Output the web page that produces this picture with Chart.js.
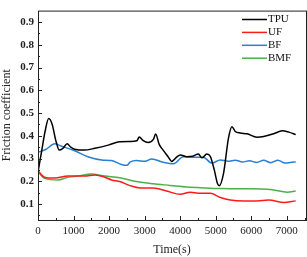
<!DOCTYPE html>
<html>
<head>
<meta charset="utf-8">
<script src="https://cdn.jsdelivr.net/npm/chart.js@4/dist/chart.umd.min.js"></script>
<style>
    html, body { margin: 0; padding: 0; background: #fff; }
    #wrap { width: 307px; height: 257px; }
</style>
</head>
<body>
<div id="wrap"><canvas id="myChart"></canvas></div>
<script>
// values
const seriesNames = ['TPU', 'UF', 'BF', 'BMF'];

const tpuTime = [0, 100, 200, 300, 400, 500, 600, 700, 820, 920, 1030, 1300, 1600, 2000, 2300, 2600, 2780, 2850, 2950, 3100, 3250, 3310, 3410, 3520, 3670, 3760, 3900, 4000, 4190, 4350, 4510, 4610, 4750, 4845, 4960, 5050, 5100, 5220, 5360, 5456, 5550, 5690, 5880, 6160, 6350, 6630, 6870, 7060, 7250];
const tpuValues = [0.24, 0.33, 0.42, 0.476, 0.45, 0.38, 0.337, 0.345, 0.365, 0.35, 0.341, 0.337, 0.345, 0.36, 0.374, 0.375, 0.378, 0.395, 0.38, 0.37, 0.385, 0.408, 0.362, 0.337, 0.306, 0.287, 0.306, 0.316, 0.308, 0.31, 0.32, 0.303, 0.32, 0.31, 0.25, 0.19, 0.181, 0.235, 0.391, 0.44, 0.419, 0.412, 0.409, 0.394, 0.397, 0.409, 0.422, 0.416, 0.405];

const ufTime = [0, 185, 470, 840, 1310, 1600, 1880, 2070, 2300, 2590, 2870, 3240, 3620, 4000, 4280, 4560, 4850, 5130, 5410, 5790, 6160, 6490, 6920, 7250];
const ufValues = [0.246, 0.218, 0.214, 0.223, 0.223, 0.228, 0.218, 0.206, 0.199, 0.181, 0.171, 0.171, 0.157, 0.143, 0.152, 0.147, 0.147, 0.129, 0.118, 0.114, 0.114, 0.118, 0.107, 0.114];

const bfTime = [0, 230, 470, 650, 1030, 1400, 1790, 2070, 2350, 2500, 2590, 2770, 3010, 3200, 3520, 3810, 4090, 4370, 4650, 4890, 5130, 5350, 5550, 5750, 5950, 6150, 6350, 6550, 6750, 6950, 7100, 7250];
const bfValues = [0.327, 0.341, 0.365, 0.355, 0.334, 0.308, 0.294, 0.291, 0.274, 0.27, 0.284, 0.291, 0.288, 0.298, 0.284, 0.277, 0.308, 0.306, 0.306, 0.28, 0.294, 0.288, 0.293, 0.285, 0.29, 0.283, 0.292, 0.282, 0.293, 0.28, 0.283, 0.285];

const bmfTime = [0, 185, 560, 840, 1120, 1500, 1880, 2300, 2770, 3240, 3720, 4190, 4660, 5130, 5790, 6540, 7010, 7250];
const bmfValues = [0.242, 0.213, 0.206, 0.218, 0.223, 0.232, 0.223, 0.216, 0.199, 0.189, 0.182, 0.175, 0.171, 0.168, 0.167, 0.164, 0.152, 0.157];

const xTicks = [0, 1000, 2000, 3000, 4000, 5000, 6000, 7000];
const yTicks = [0.1, 0.2, 0.3, 0.4, 0.5, 0.6, 0.7, 0.8, 0.9];

const colors = ['#000000', '#ff1a1a', '#2a7fd4', '#4cb04c'];
const serif = '"Liberation Serif", "Times New Roman", serif';

const toPoints = (ts, vs) => ts.map((t, i) => ({ x: t, y: vs[i] }));

// frame, inward major/minor ticks and the legend box
const framePlugin = {
    id: 'frame',
    afterDraw(chart) {
        const { ctx, chartArea: a, scales } = chart;
        ctx.save();
        ctx.strokeStyle = '#222';
        ctx.lineWidth = 1;
        ctx.strokeRect(a.left + 0.5, a.top + 0.5, a.right - a.left, a.bottom - a.top);

        ctx.beginPath();
        for (let t = 0; t <= 7500; t += 500) {
            const px = Math.round(scales.x.getPixelForValue(t)) + 0.5;
            const len = t % 1000 === 0 ? 4 : 2;
            ctx.moveTo(px, a.bottom);
            ctx.lineTo(px, a.bottom - len);
        }
        for (let i = 1; i <= 18; i++) {
            const v = i * 0.05;
            const py = Math.round(scales.y.getPixelForValue(v)) + 0.5;
            const len = i % 2 === 0 ? 4 : 2;
            ctx.moveTo(a.left, py);
            ctx.lineTo(a.left + len, py);
        }
        ctx.stroke();

        // legend
        ctx.font = '11px ' + serif;
        ctx.textBaseline = 'middle';
        chart.data.datasets.forEach((ds, i) => {
            const y = 19.5 + i * 12.9;
            ctx.strokeStyle = ds.borderColor;
            ctx.lineWidth = 1.5;
            ctx.beginPath();
            ctx.moveTo(242, y);
            ctx.lineTo(267, y);
            ctx.stroke();
            ctx.fillStyle = '#111';
            ctx.fillText(ds.label, 268, y);
        });
        ctx.restore();
    }
};

const allTimes = [tpuTime, ufTime, bfTime, bmfTime];
const allValues = [tpuValues, ufValues, bfValues, bmfValues];

document.addEventListener('DOMContentLoaded', () => {
    const ctx = document.getElementById('myChart');
    new Chart(ctx, {
        type: 'line',
        data: {
            datasets: seriesNames.map((name, i) => ({
                label: name,
                data: toPoints(allTimes[i], allValues[i]),
                borderColor: colors[i],
                borderWidth: 1.5,
                pointRadius: 0,
                tension: 0.4,
                cubicInterpolationMode: 'monotone',
                fill: false
            }))
        },
        options: {
            responsive: true,
            maintainAspectRatio: false,
            animation: false,
            layout: { padding: { top: 5, right: 1, left: 0, bottom: 0 } },
            scales: {
                x: {
                    type: 'linear',
                    min: 0,
                    max: 7540,
                    afterBuildTicks: s => { s.ticks = xTicks.map(v => ({ value: v })); },
                    afterFit: s => { s.height = 37; },
                    grid: { display: false, drawTicks: false },
                    border: { display: false },
                    ticks: {
                        color: '#222',
                        padding: 5,
                        maxRotation: 0,
                        autoSkip: false,
                        callback: v => String(v),
                        font: { family: serif, size: 11 }
                    },
                    title: {
                        display: true,
                        text: 'Time(s)',
                        color: '#222',
                        padding: { top: 2, bottom: 0 },
                        font: { family: serif, size: 12 }
                    }
                },
                y: {
                    min: 0.03,
                    max: 0.95,
                    afterBuildTicks: s => { s.ticks = yTicks.map(v => ({ value: v })); },
                    afterFit: s => { s.width = 38; },
                    grid: { display: false, drawTicks: false },
                    border: { display: false },
                    ticks: {
                        color: '#222',
                        padding: 4,
                        autoSkip: false,
                        callback: v => v.toFixed(1),
                        font: { family: serif, size: 11, weight: 'bold' }
                    },
                    title: {
                        display: true,
                        text: 'Friction coefficient',
                        color: '#222',
                        padding: { top: 0, bottom: 2 },
                        font: { family: serif, size: 12 }
                    }
                }
            },
            plugins: {
                legend: { display: false },
                tooltip: { enabled: false }
            }
        },
        plugins: [framePlugin]
    });
});
</script>
</body>
</html>
